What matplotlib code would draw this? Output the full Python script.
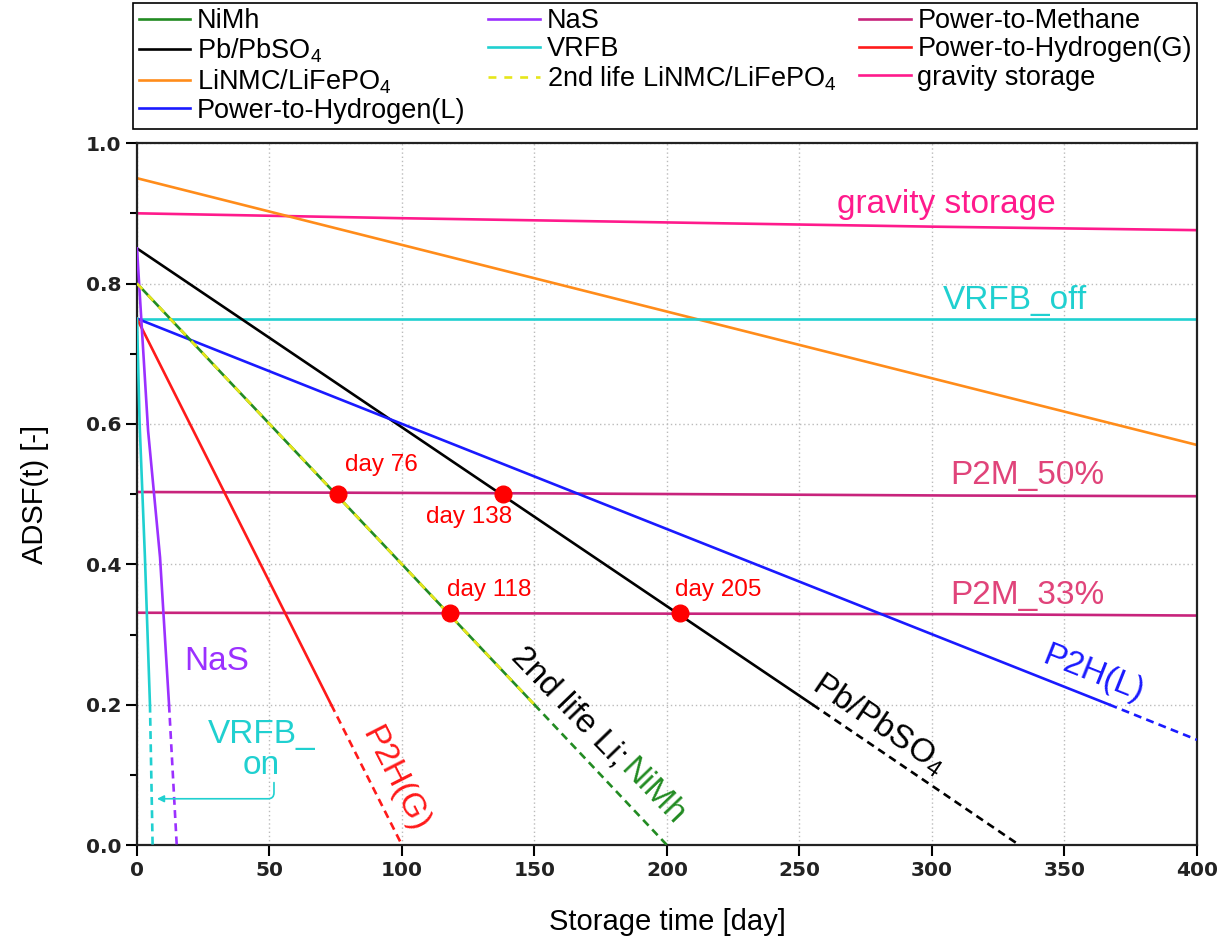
import matplotlib
matplotlib.use('Agg')
import matplotlib.pyplot as plt
from matplotlib.lines import Line2D

plt.rcParams['font.family'] = ['Liberation Sans', 'DejaVu Sans']
plt.rcParams['mathtext.fontset'] = 'custom'
plt.rcParams['mathtext.rm'] = 'Liberation Sans'
plt.rcParams['mathtext.it'] = 'Liberation Sans'

# ---- data ----
# decreasing curves: first part solid, last segment dashed (below ADSF 0.2)
days_nimh = [0, 150, 200]
adsf_nimh = [0.80, 0.20, 0.0]
days_nas = [0, 4.2, 8.7, 12.1, 15.0]
adsf_nas = [0.85, 0.59, 0.41, 0.20, 0.0]
days_pb = [0, 255, 333]
adsf_pb = [0.85, 0.20, 0.0]
days_vrfb_on = [0, 1.0, 3.0, 4.9, 5.9]
adsf_vrfb_on = [0.75, 0.60, 0.41, 0.20, 0.0]
days_p2hg = [0, 73.3, 100]
adsf_p2hg = [0.75, 0.20, 0.0]
days_p2hl = [0, 100, 367, 400]
adsf_p2hl = [0.75, 0.60, 0.20, 0.15]

# flat / slow curves
days_vrfb_off = [0, 400]
adsf_vrfb_off = [0.75, 0.75]
days_linmc = [0, 400]
adsf_linmc = [0.95, 0.57]
days_gravity = [0, 100, 200, 300, 400]
adsf_gravity = [0.900, 0.893, 0.887, 0.881, 0.876]
days_p2m = [0, 155, 306, 400]
adsf_p2m50 = [0.503, 0.501, 0.498, 0.497]
adsf_p2m33 = [0.331, 0.330, 0.329, 0.327]

# intersection markers
mark_days = [76, 138, 118, 205]
mark_adsf = [0.50, 0.50, 0.33, 0.33]
mark_text = ['day 76', 'day 138', 'day 118', 'day 205']
mark_text_x = [78.5, 109, 117, 203]
mark_text_y = [0.541, 0.467, 0.363, 0.363]

c_nimh = '#228b22'
c_nas = '#9b30ff'
c_p2m = '#c8247c'
c_pb = 'black'
c_vrfb = '#20d0d0'
c_p2hg = '#ff1a1a'
c_linmc = '#ff8c1a'
c_2nd = '#e6e61a'
c_grav = '#ff1a8c'
c_p2hl = '#1a1aff'
lw = 1.9

fig = plt.figure(figsize=(12.23, 9.39), dpi=100)
ax = fig.add_axes([0.112, 0.1, 0.8667, 0.7476])


def solid_dashed(x, y, color):
    ax.plot(x[:-1], y[:-1], color=color, lw=lw, zorder=3)
    ax.plot(x[-2:], y[-2:], color=color, lw=lw, ls=(0, (3, 2)), zorder=3)


ax.plot(days_gravity, adsf_gravity, color=c_grav, lw=lw)
ax.plot(days_linmc, adsf_linmc, color=c_linmc, lw=lw)
ax.plot(days_vrfb_off, adsf_vrfb_off, color=c_vrfb, lw=lw)
ax.plot(days_p2m, adsf_p2m50, color=c_p2m, lw=lw)
ax.plot(days_p2m, adsf_p2m33, color=c_p2m, lw=lw)
solid_dashed(days_pb, adsf_pb, c_pb)
solid_dashed(days_p2hl, adsf_p2hl, c_p2hl)
solid_dashed(days_nimh, adsf_nimh, c_nimh)
ax.plot(days_nimh[:-1], adsf_nimh[:-1], color=c_2nd, lw=lw, ls=(0, (3, 3)), zorder=4)
solid_dashed(days_p2hg, adsf_p2hg, c_p2hg)
solid_dashed(days_nas, adsf_nas, c_nas)
solid_dashed(days_vrfb_on, adsf_vrfb_on, c_vrfb)

ax.plot(mark_days, mark_adsf, 'o', color='red', ms=12, zorder=5)
for tx, ty, s in zip(mark_text_x, mark_text_y, mark_text):
    ax.text(tx, ty, s, color='red', fontsize=17.5, va='center', ha='left')

# curve labels
ax.text(264, 0.913, 'gravity storage', color=c_grav, fontsize=24, va='center')
ax.text(304, 0.776, 'VRFB_off', color=c_vrfb, fontsize=24, va='center')
ax.text(307, 0.527, 'P2M_50%', color='#e0447a', fontsize=24, va='center')
ax.text(307, 0.356, 'P2M_33%', color='#e0447a', fontsize=24, va='center')
ax.text(361, 0.243, 'P2H(L)', color=c_p2hl, fontsize=24, rotation=-21.7,
        ha='center', va='center', rotation_mode='anchor')
ax.text(280, 0.172, 'Pb/PbSO$_4$', color='black', fontsize=24, rotation=-34,
        ha='center', va='center', rotation_mode='anchor')
ax.text(163, 0.197, '2nd life Li;', color='black', fontsize=24, rotation=-46,
        ha='center', va='center', rotation_mode='anchor')
ax.text(194.5, 0.076, 'NiMh', color=c_nimh, fontsize=24, rotation=-46,
        ha='center', va='center', rotation_mode='anchor')
ax.text(97.4, 0.093, 'P2H(G)', color=c_p2hg, fontsize=24, rotation=-63,
        ha='center', va='center', rotation_mode='anchor')
ax.text(30, 0.261, 'NaS', color=c_nas, fontsize=24, ha='center', va='center')
ax.text(47, 0.135, 'VRFB_\non', color=c_vrfb, fontsize=24, ha='center',
        va='center', linespacing=1.0)
ax.annotate('', xy=(6.5, 0.066), xytext=(51.7, 0.093),
            arrowprops=dict(arrowstyle='-|>', color=c_vrfb, lw=1.2,
                            connectionstyle='angle,angleA=90,angleB=0,rad=6'))

ax.set_xlim(0, 400)
ax.set_ylim(0, 1.0)
ax.set_xticks(range(0, 401, 50))
ax.set_yticks([0, 0.2, 0.4, 0.6, 0.8, 1.0])
ax.set_yticks([0.1, 0.3, 0.5, 0.7, 0.9], minor=True)
ax.tick_params(axis='both', which='major', direction='out', length=8, width=1.5,
               labelsize=14.5, labelfontfamily='DejaVu Sans')
ax.tick_params(axis='y', which='minor', direction='out', length=5, width=1.5)
for lab in ax.get_xticklabels() + ax.get_yticklabels():
    lab.set_fontweight('bold')
    lab.set_color('#222222')
ax.grid(True, which='major', color='#bbbbbb', ls=(0, (1, 2)), lw=1)
for sp in ax.spines.values():
    sp.set_linewidth(1.6)
    sp.set_color('#222222')

ax.set_xlabel('Storage time [day]', fontsize=21, labelpad=20)
ax.set_ylabel('ADSF(t) [-]', fontsize=21, labelpad=26)

handles = [
    Line2D([], [], color=c_nimh, lw=lw),
    Line2D([], [], color=c_pb, lw=lw),
    Line2D([], [], color=c_linmc, lw=lw),
    Line2D([], [], color=c_p2hl, lw=lw),
    Line2D([], [], color=c_nas, lw=lw),
    Line2D([], [], color=c_vrfb, lw=lw),
    Line2D([], [], color=c_2nd, lw=lw, ls=(0, (3, 3))),
    Line2D([], [], color=c_p2m, lw=lw),
    Line2D([], [], color=c_p2hg, lw=lw),
    Line2D([], [], color=c_grav, lw=lw),
]
labels = ['NiMh', 'Pb/PbSO$_4$', 'LiNMC/LiFePO$_4$', 'Power-to-Hydrogen(L)',
          'NaS', 'VRFB', '2nd life LiNMC/LiFePO$_4$',
          'Power-to-Methane', 'Power-to-Hydrogen(G)', 'gravity storage']
leg = fig.legend(handles, labels, loc='upper left', ncol=3, mode='expand',
                 bbox_to_anchor=(0.109, 0.864, 0.870, 0.133), borderaxespad=0,
                 fontsize=19.5, handlelength=1.9, handletextpad=0.25,
                 labelspacing=0.08, borderpad=0.2, fancybox=False,
                 edgecolor='black', framealpha=1)
leg.get_frame().set_linewidth(1.2)

fig.savefig('out.png', dpi=100)
